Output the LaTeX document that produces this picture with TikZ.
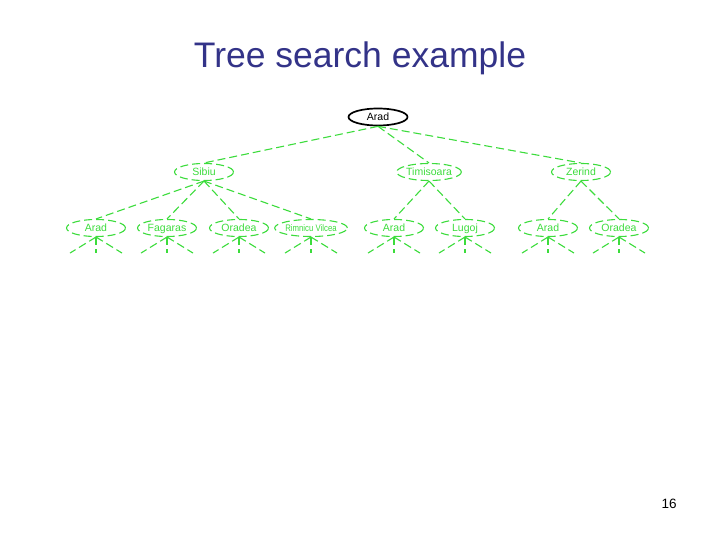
\documentclass[tikz,border=0pt]{standalone}
\usepackage{fontspec}
\setmainfont{Liberation Sans}
\usetikzlibrary{shapes.geometric}
\definecolor{titleblue}{RGB}{51,51,136}
\definecolor{treegreen}{RGB}{60,220,60}
\begin{document}
\begin{tikzpicture}[x=1pt,y=-1pt,
  city/.style={ellipse,minimum width=59pt,minimum height=17pt,inner sep=0pt,text height=7.5pt,text depth=0pt,font=\fontsize{10.5}{12}\selectfont},
  expanded/.style={city,draw=black,line width=1.7pt,text=black},
  frontier/.style={city,draw=treegreen,dash pattern=on 8pt off 4pt,line width=1.1pt,text=treegreen},
  branch/.style={draw=treegreen,dash pattern=on 8pt off 4pt,line width=1.1pt}]

\useasboundingbox (0,0) rectangle (720,540);

% 標題
\node (title) at (360,58) {\fontsize{35.5}{40}\selectfont\color{titleblue}Tree search example};

% 根節點
\node[expanded] (arad) at (378,117) {Arad};

% 第二層
\node[frontier] (sibiu) at (204,172) {Sibiu};
\node[frontier] (timisoara) at (429,172) {Timisoara};
\node[frontier] (zerind) at (581,172) {Zerind};

% 第三層
\node[frontier] (sArad) at (96,228) {Arad};
\node[frontier] (fagaras) at (167,228) {Fagaras};
\node[frontier] (sOradea) at (239,228) {Oradea};
\node[frontier] (rimnicu) at (311,228) {\scalebox{0.82}[1]{\fontsize{9.5}{10}\selectfont Rimnicu Vilcea}};
\node[frontier] (tArad) at (394,228) {Arad};
\node[frontier] (lugoj) at (465,228) {Lugoj};
\node[frontier] (zArad) at (548,228) {Arad};
\node[frontier] (zOradea) at (619,228) {Oradea};

% 連線
\foreach \c in {sibiu,timisoara,zerind}
  \draw[branch] (arad.south) -- (\c.north);
\foreach \c in {sArad,fagaras,sOradea,rimnicu}
  \draw[branch] (sibiu.south) -- (\c.north);
\foreach \c in {tArad,lugoj}
  \draw[branch] (timisoara.south) -- (\c.north);
\foreach \c in {zArad,zOradea}
  \draw[branch] (zerind.south) -- (\c.north);

% 未展開的分支
\foreach \c in {sArad,fagaras,sOradea,rimnicu,tArad,lugoj,zArad,zOradea}
  \foreach \dx in {-26,0,26}
    \draw[branch] (\c.south) -- ++(\dx,16);

% 頁碼
\node (page) at (669,504) {\fontsize{13.5}{16}\selectfont 16};

\end{tikzpicture}
\end{document}
